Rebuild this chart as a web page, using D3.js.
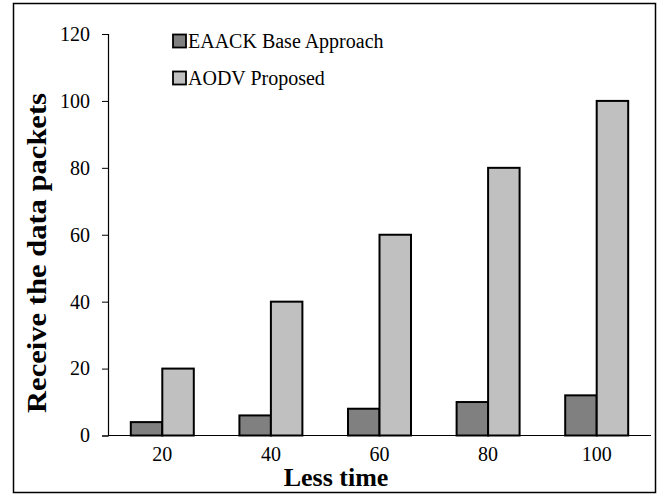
<!DOCTYPE html>
<html><head><meta charset="utf-8">
<script src="https://cdn.jsdelivr.net/npm/d3@7"></script>
<style>body{margin:0;background:#fff}svg{display:block}text{font-family:"Liberation Serif","Times New Roman",serif}</style>
</head><body>
<svg id="c" width="662" height="495"></svg>
<script>
const categories = ["20","40","60","80","100"];
const seriesNames = ["EAACK Base Approach","AODV Proposed"];
const eaack = [4,6,8,10,12];
const aodv = [20,40,60,80,100];
const yTicks = [0,20,40,60,80,100,120];
const colors = ["#808080","#c0c0c0"];

const svg = d3.select("#c");
svg.append("rect").attr("x",13.5).attr("y",3.5).attr("width",642).attr("height",489)
  .attr("fill","#fff").attr("stroke","#000").attr("stroke-width",1.5);

const m = {l:108, r:651, t:34, b:435.5};
const x = d3.scaleBand().domain(categories).range([m.l,m.r]).paddingInner(0.42).paddingOuter(0.21);
const xs = d3.scaleBand().domain([0,1]).range([0,x.bandwidth()]);
const y = d3.scaleLinear().domain([0,120]).range([m.b,m.t]);

const data = categories.map((c,i)=>({c, v:[eaack[i],aodv[i]]}));
const g = svg.append("g");
g.selectAll("g.grp").data(data).join("g").attr("class","grp")
  .attr("transform",d=>`translate(${x(d.c)},0)`)
  .selectAll("rect").data(d=>d.v.map((v,k)=>({v,k}))).join("rect")
  .attr("x",d=>xs(d.k)).attr("width",xs.bandwidth())
  .attr("y",d=>y(d.v)).attr("height",d=>y(0)-y(d.v))
  .attr("fill",d=>colors[d.k]).attr("stroke","#000").attr("stroke-width",2);

const ya = svg.append("g").attr("transform",`translate(${m.l},0)`)
  .call(d3.axisLeft(y).tickValues(yTicks).tickSize(6).tickPadding(12));
ya.select(".domain").attr("stroke","#000").attr("stroke-width",1.2);
ya.selectAll(".tick line").attr("stroke","#000");
ya.selectAll("text").attr("font-size",20).attr("fill","#000").attr("font-family","Liberation Serif");

const xa = svg.append("g").attr("transform",`translate(0,${m.b})`)
  .call(d3.axisBottom(x).tickSize(0).tickPadding(11));
xa.select(".domain").attr("d",`M${m.l},0H${m.r}`).attr("stroke","#000").attr("stroke-width",1.2);
xa.selectAll("text").attr("font-size",20).attr("fill","#000").attr("font-family","Liberation Serif");

svg.append("text").attr("x",336).attr("y",486).attr("text-anchor","middle")
  .attr("font-size",26).attr("font-weight","bold").text("Less time");
svg.append("text").attr("transform","translate(46,253) rotate(-90)").attr("text-anchor","middle")
  .attr("font-size",27).attr("font-weight","bold")
  .attr("textLength",320).attr("lengthAdjust","spacingAndGlyphs").text("Receive the data packets");

const lg = svg.append("g");
seriesNames.forEach((n,i)=>{
  const cy = 41 + i*37;
  lg.append("rect").attr("x",173).attr("y",cy-6.5).attr("width",13).attr("height",13)
    .attr("fill",colors[i]).attr("stroke","#000").attr("stroke-width",1.8);
  lg.append("text").attr("x",188).attr("y",cy+7).attr("font-size",20).text(n);
});
</script>
</body></html>
